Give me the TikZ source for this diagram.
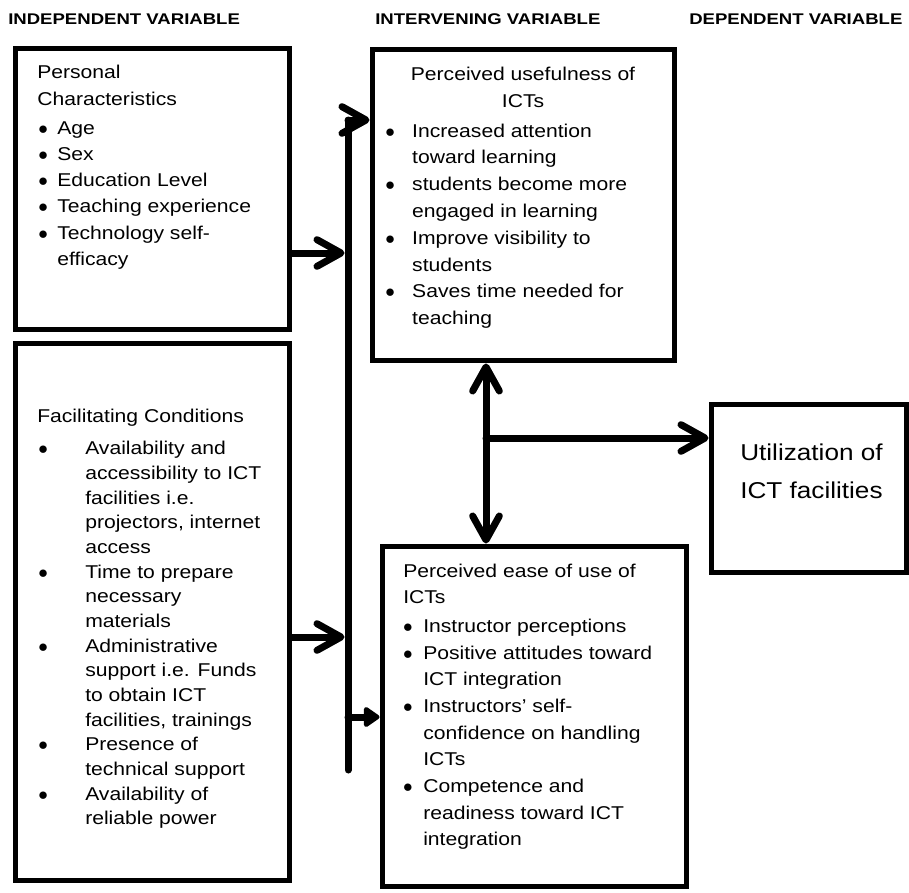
\documentclass[tikz,border=0pt]{standalone}
\usepackage{fontspec}
\setmainfont{Liberation Sans}[FakeStretch=1.14]
\newfontfamily\hdrfont{Liberation Sans}[FakeStretch=1.2]
\usetikzlibrary{arrows.meta}
\newcommand{\bdot}{\makebox[7pt][c]{$\bullet$}}
\tikzset{
  box/.style={draw=black, line width=3.75pt, inner sep=0pt},
  txt/.style={inner sep=0pt, anchor=base west, font=\fontsize{13.9}{19.7}\selectfont},
  hdr/.style={inner sep=0pt, anchor=base west, font=\hdrfont\bfseries\fontsize{11.6}{14}\selectfont},
  conn/.style={line width=5.25pt, line cap=round},
  head/.style={-{Straight Barb[length=18pt,width=20pt,round]}},
  dhead/.style={{Straight Barb[length=18pt,width=20pt,round]}-{Straight Barb[length=18pt,width=20pt,round]}},
  thead/.style={-{Triangle[length=13pt,width=17pt,round]}}
}

\begin{document}
\begin{tikzpicture}[x=0.75pt,y=-0.75pt]
\useasboundingbox (0,0) rectangle (909,892);

\node[hdr] (hdrIV) at (8,25) {INDEPENDENT VARIABLE};
\node[hdr] (hdrMV) at (375,25) {INTERVENING VARIABLE};
\node[hdr] (hdrDV) at (689,25) {DEPENDENT VARIABLE};

\node[box,minimum width=205.5pt,minimum height=210pt] (pc) at (152,189) {};
\node[txt] (pctext) at (37,79) {\begin{tabular}[t]{@{\hspace{1pt}}l@{\hspace{7pt}}l@{}}
\multicolumn{2}{@{}l@{}}{Personal}\\
\multicolumn{2}{@{}l@{}}{Characteristics}\\[1.9pt]
\bdot & Age\\
\bdot & Sex\\
\bdot & Education Level\\
\bdot & Teaching experience\\
\bdot & Technology self-\\
 & efficacy
\end{tabular}};

\node[box,minimum width=205.5pt,minimum height=402.75pt] (fc) at (152,611.5) {};
\node[txt,font=\fontsize{13.9}{18.5}\selectfont] (fctext) at (37,422) {\begin{tabular}[t]{@{\hspace{1pt}}l@{\hspace{28pt}}l@{}}
\multicolumn{2}{@{}l@{}}{Facilitating Conditions}\\[6.2pt]
\bdot & Availability and\\
 & accessibility to ICT\\
 & facilities i.e.\\
 & projectors, internet\\
 & access\\
\bdot & Time to prepare\\
 & necessary\\
 & materials\\
\bdot & Administrative\\
 & support i.e. Funds\\
 & to obtain ICT\\
 & facilities, trainings\\
\bdot & Presence of\\
 & technical support\\
\bdot & Availability of\\
 & reliable power
\end{tabular}};

\node[box,minimum width=226.5pt,minimum height=233.6pt] (pu) at (523,205.25) {};
\node[txt,anchor=base,font=\fontsize{13.9}{20.25}\selectfont] (putitle) at (523,80) {\begin{tabular}[t]{@{}c@{}}
Perceived usefulness of\\
ICTs
\end{tabular}};
\node[txt,font=\fontsize{13.9}{20.1}\selectfont] (putext) at (385.3,137) {\begin{tabular}[t]{@{}l@{\hspace{13pt}}l@{}}
\bdot & Increased attention\\
 & toward learning\\
\bdot & students become more\\
 & engaged in learning\\
\bdot & Improve visibility to\\
 & students\\
\bdot & Saves time needed for\\
 & teaching
\end{tabular}};

\node[box,minimum width=228pt,minimum height=255pt] (pe) at (534,716) {};
\node[txt,font=\fontsize{13.9}{20}\selectfont] (petext) at (403,577) {\begin{tabular}[t]{@{}l@{\hspace{8pt}}l@{}}
\multicolumn{2}{@{}l@{}}{Perceived ease of use of}\\
\multicolumn{2}{@{}l@{}}{ICTs}\\[1.5pt]
\bdot & Instructor perceptions\\
\bdot & Positive attitudes toward\\
 & ICT integration\\
\bdot & Instructors’ self-\\
 & confidence on handling\\
 & ICTs\\
\bdot & Competence and\\
 & readiness toward ICT\\
 & integration
\end{tabular}};

\node[box,minimum width=146.25pt,minimum height=126pt] (ut) at (808.5,488) {};
\node[txt,font=\fontsize{17.2}{28.5}\selectfont] (uttext) at (740,460) {\begin{tabular}[t]{@{}l@{}}
Utilization of\\
ICT facilities
\end{tabular}};

\coordinate (barA) at (344.5,253);
\coordinate (barB) at (344.5,637);
\coordinate (bartop) at (348,120);
\coordinate (barbot) at (348,770);
\coordinate (barC) at (348,717);
\coordinate (mid) at (486,438);

\path[conn,head] (pc.east |- barA) edge (barA);
\path[conn,head] (fc.east |- barB) edge (barB);
\path[conn] (barbot) edge (bartop);
\path[conn,head] (bartop) edge (pu.west |- bartop);
\path[conn,thead] (barC) edge (pe.west |- barC);
\path[conn,dhead] (mid |- pu.south) edge (mid |- pe.north);
\path[conn,head] (mid) edge (ut.west |- mid);
\end{tikzpicture}
\end{document}
